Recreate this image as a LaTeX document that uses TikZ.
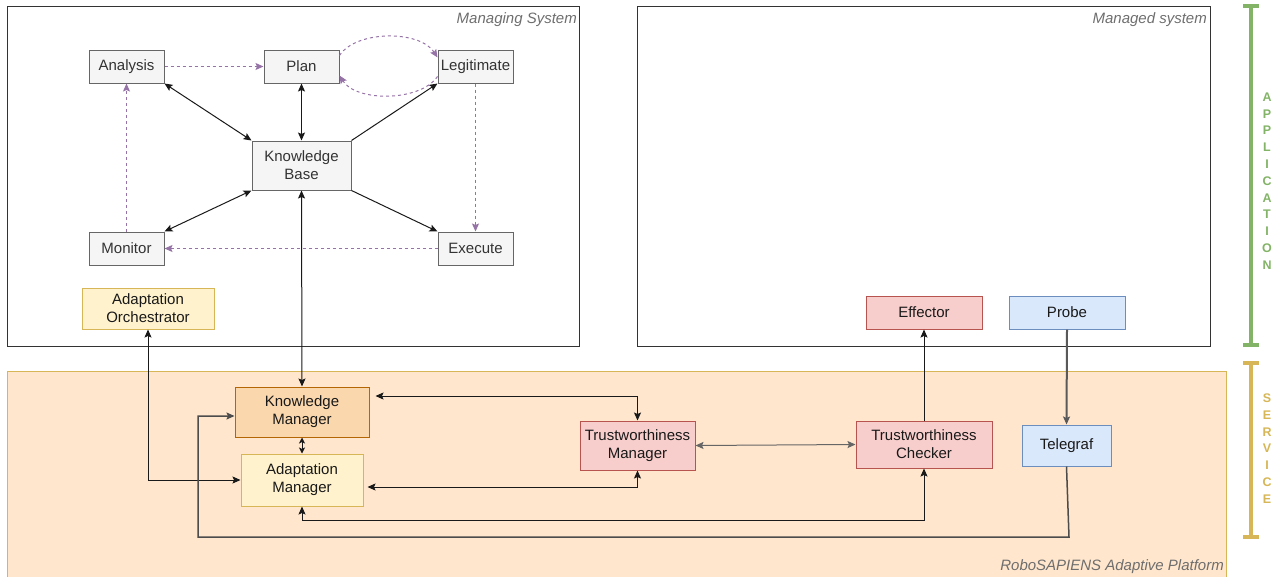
\documentclass[tikz,border=0pt]{standalone}
\usepackage{fontspec}
\setmainfont{Liberation Sans}
\usetikzlibrary{arrows.meta,calc}

\definecolor{grayfill}{HTML}{F5F5F5}
\definecolor{graystroke}{HTML}{666666}
\definecolor{yelfill}{HTML}{FFF2CC}
\definecolor{yelstroke}{HTML}{D6B656}
\definecolor{orfill}{HTML}{FAD7AC}
\definecolor{orstroke}{HTML}{B46504}
\definecolor{redfill}{HTML}{F8CECC}
\definecolor{redstroke}{HTML}{B85450}
\definecolor{bluefill}{HTML}{DAE8FC}
\definecolor{bluestroke}{HTML}{6C8EBF}
\definecolor{platfill}{HTML}{FFE6CC}
\definecolor{loopcol}{HTML}{9673A6}
\definecolor{appgreen}{HTML}{82B366}
\definecolor{labelgray}{HTML}{6E6E6E}
\definecolor{textdark}{HTML}{333333}

\tikzset{
  >={Stealth[length=8pt,width=7pt,inset=1.5pt]},
  smalltips/.style={{Stealth[length=6pt,width=6pt,inset=1.5pt]}-{Stealth[length=6pt,width=6pt,inset=1.5pt]}},
  box/.style={draw, line width=1pt, inner sep=0pt, align=center,
    font=\fontsize{15}{18}\selectfont},
  mapek/.style={box, fill=grayfill, draw=graystroke, text=textdark,
    minimum width=75pt, minimum height=33pt},
  yelbox/.style={box, fill=yelfill, draw=yelstroke, text=black!90},
  orbox/.style={box, fill=orfill, draw=orstroke, text=black!90},
  redbox/.style={box, fill=redfill, draw=redstroke, text=black!90},
  bluebox/.style={box, fill=bluefill, draw=bluestroke, text=black!90},
  frame/.style={draw=black!80, line width=1pt, inner sep=0pt},
  arealabel/.style={text=labelgray, font=\fontsize{15}{18}\selectfont\itshape, inner sep=0pt},
  link/.style={draw=black!90, line width=1pt},
  glink/.style={draw=black!60, line width=1pt},
  loop/.style={draw=loopcol, line width=1pt, dash pattern=on 3pt off 3pt},
  layerbar/.style={line width=3.5pt},
  layertext/.style={inner sep=0pt, align=center,
    font=\fontsize{12.5}{16.8}\selectfont\bfseries}
}

\begin{document}
\begin{tikzpicture}[x=1pt,y=-1pt]
\useasboundingbox (0,0) rectangle (1277,576);

% platform area (runs off the lower edge)
\fill[platfill] (7,371) rectangle (1226,580);
\draw[yelstroke, line width=1pt] (7,580) -- (7,371) -- (1226,371) -- (1226,580);
\node[arealabel, anchor=east] (platlabel) at (1224,567) {RoboSAPIENS Adaptive Platform};

% system frames
\node[frame, minimum width=572pt, minimum height=340pt] (managing) at (293,176) {};
\node[frame, minimum width=573pt, minimum height=340pt] (managed) at (923.5,176) {};
\node[arealabel, anchor=east] (manlabel) at (577,19.5) {Managing System};
\node[arealabel, anchor=east] (mdlabel) at (1207,19.5) {Managed system};

% MAPE-K loop
\node[mapek] (an) at (126.5,66.5) {Analysis};
\node[mapek] (plan) at (301.5,66.5) {Plan};
\node[mapek] (leg) at (475.5,66.5) {Legitimate};
\node[mapek, minimum width=99pt, minimum height=49pt] (kb) at (301.5,165.5) {Knowledge\\Base};
\node[mapek] (mon) at (126.5,248.5) {Monitor};
\node[mapek] (ex) at (475.5,248.5) {Execute};
\node[yelbox, minimum width=132pt, minimum height=41pt] (ao) at (148,308.5) {Adaptation\\Orchestrator};

% managed system interfaces
\node[redbox, minimum width=116pt, minimum height=33pt] (eff) at (924,312.5) {Effector};
\node[bluebox, minimum width=116pt, minimum height=33pt] (probe) at (1067,312.5) {Probe};

% platform services
\node[orbox, minimum width=134pt, minimum height=50pt] (km) at (302,412) {Knowledge\\Manager};
\node[yelbox, minimum width=122pt, minimum height=52pt] (am) at (302,480) {Adaptation\\Manager};
\node[redbox, minimum width=115pt, minimum height=49pt] (tm) at (637.5,445.5) {Trustworthiness\\Manager};
\node[redbox, minimum width=136pt, minimum height=47pt] (tc) at (924,444.5) {Trustworthiness\\Checker};
\node[bluebox, minimum width=89pt, minimum height=41pt] (tel) at (1066.5,445.5) {Telegraf};

% knowledge exchange with the base
\draw[link,<->] (an.south east) -- (kb.north west);
\draw[link,<->] (plan.south) -- (kb.north);
\draw[link,->] (kb.north east) -- (leg.south west);
\draw[link,<->] (mon.north east) -- (kb.south west);
\draw[link,->] (kb.south east) -- (ex.north west);
\draw[link,<->] (kb.south) -- (km.north);

% control flow of the loop
\draw[loop,->] (an.east) -- (plan.west);
\draw[loop,->] (mon.north) -- (an.south);
\draw[loop,->] (ex.west) -- (mon.east);
\draw[loop,->] (leg.south) -- (ex.north);
\draw[loop,->] ([yshift=11pt]plan.east) .. controls (356,30) and (420,30) .. ([yshift=9pt]leg.west);
\draw[loop,->] ([yshift=-10pt]leg.west) .. controls (420,102) and (356,102) .. ([yshift=-9pt]plan.east);

% platform wiring
\coordinate (low) at (0,520);
\coordinate (telturn) at (1069,537);
\coordinate (leftturn) at (198,537);
\draw[link,<->] (ao.south) |- (am.west);
\draw[link,smalltips] (km.south) -- (am.north);
\draw[link,<->] ([xshift=6pt,yshift=16pt]km.east) -| (tm.north);
\draw[link,<->] ([xshift=4pt,yshift=-7pt]am.east) -| (tm.south);
\draw[glink,<->] (tm.east) -- (tc.west);
\draw[link,->] (tc.north) -- (eff.south);
\draw[link,<->] (am.south) -- (am.south |- low) -| (tc.south);
\draw[draw=black!65,line width=2pt,->] (probe.south) -- (tel.north);
\draw[draw=black!70,line width=1.5pt,->] (tel.south) -- (telturn) -- (leftturn) |- ([yshift=-4pt]km.west);

% layer brackets
\draw[appgreen, layerbar] (1251,6) -- (1251,345);
\draw[appgreen, layerbar] (1243,6) -- (1259,6);
\draw[appgreen, layerbar] (1243,345) -- (1259,345);
\node[layertext, text=appgreen] (applabel) at (1267,181) {A\\P\\P\\L\\I\\C\\A\\T\\I\\O\\N};
\draw[yelstroke, layerbar] (1251,363) -- (1251,537);
\draw[yelstroke, layerbar] (1243,363) -- (1259,363);
\draw[yelstroke, layerbar] (1243,537) -- (1259,537);
\node[layertext, text=yelstroke] (servlabel) at (1267,448.5) {S\\E\\R\\V\\I\\C\\E};
\end{tikzpicture}
\end{document}
